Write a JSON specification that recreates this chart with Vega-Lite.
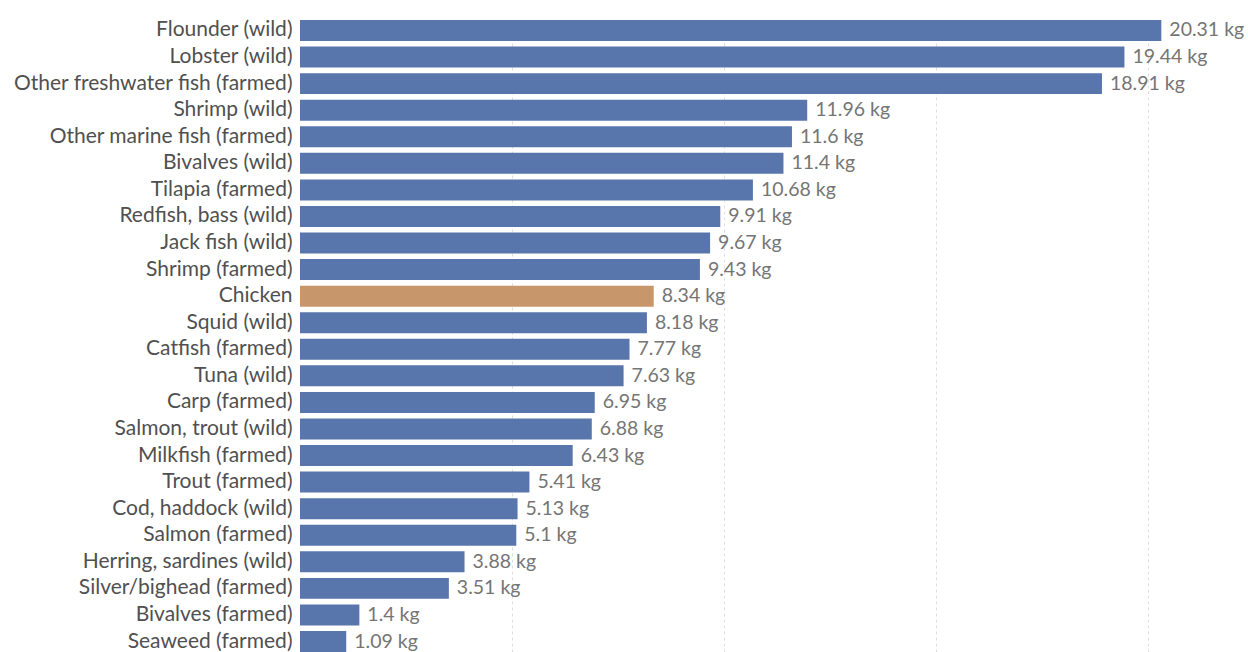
{
  "$schema": "https://vega.github.io/schema/vega-lite/v6.json",
  "autosize": "none",
  "width": 933,
  "height": 632,
  "padding": {"left": 300, "top": 20, "right": 15, "bottom": 0},
  "background": "white",
  "config": {"view": {"stroke": null}, "font": "Lato"},
  "data": {"values": [
    {"item": "Flounder (wild)", "kg": 20.31, "hl": "no"},
    {"item": "Lobster (wild)", "kg": 19.44, "hl": "no"},
    {"item": "Other freshwater fish (farmed)", "kg": 18.91, "hl": "no"},
    {"item": "Shrimp (wild)", "kg": 11.96, "hl": "no"},
    {"item": "Other marine fish (farmed)", "kg": 11.6, "hl": "no"},
    {"item": "Bivalves (wild)", "kg": 11.4, "hl": "no"},
    {"item": "Tilapia (farmed)", "kg": 10.68, "hl": "no"},
    {"item": "Redfish, bass (wild)", "kg": 9.91, "hl": "no"},
    {"item": "Jack fish (wild)", "kg": 9.67, "hl": "no"},
    {"item": "Shrimp (farmed)", "kg": 9.43, "hl": "no"},
    {"item": "Chicken", "kg": 8.34, "hl": "yes"},
    {"item": "Squid (wild)", "kg": 8.18, "hl": "no"},
    {"item": "Catfish (farmed)", "kg": 7.77, "hl": "no"},
    {"item": "Tuna (wild)", "kg": 7.63, "hl": "no"},
    {"item": "Carp (farmed)", "kg": 6.95, "hl": "no"},
    {"item": "Salmon, trout (wild)", "kg": 6.88, "hl": "no"},
    {"item": "Milkfish (farmed)", "kg": 6.43, "hl": "no"},
    {"item": "Trout (farmed)", "kg": 5.41, "hl": "no"},
    {"item": "Cod, haddock (wild)", "kg": 5.13, "hl": "no"},
    {"item": "Salmon (farmed)", "kg": 5.1, "hl": "no"},
    {"item": "Herring, sardines (wild)", "kg": 3.88, "hl": "no"},
    {"item": "Silver/bighead (farmed)", "kg": 3.51, "hl": "no"},
    {"item": "Bivalves (farmed)", "kg": 1.4, "hl": "no"},
    {"item": "Seaweed (farmed)", "kg": 1.09, "hl": "no"}
  ]},
  "transform": [{"calculate": "datum.kg + ' kg'", "as": "lbl"}],
  "encoding": {
    "y": {
      "field": "item", "type": "nominal", "sort": null,
      "scale": {"paddingInner": 0.21, "paddingOuter": 0},
      "axis": {"title": null, "domain": false, "ticks": false, "labelPadding": 8, "labelFontSize": 21, "labelColor": "#505050", "labelFont": "Lato", "labelLimit": 400}
    },
    "x": {
      "field": "kg", "type": "quantitative",
      "scale": {"domain": [0, 22], "nice": false},
      "axis": {"title": null, "values": [5, 10, 15, 20], "labels": false, "ticks": false, "domain": false, "grid": true, "gridColor": "#dddddd", "gridDash": [3, 3], "gridWidth": 1}
    }
  },
  "layer": [
    {
      "mark": {"type": "bar"},
      "encoding": {
        "color": {"field": "hl", "type": "nominal", "scale": {"domain": ["no", "yes"], "range": ["#5876ab", "#c8966b"]}, "legend": null}
      }
    },
    {
      "mark": {"type": "text", "align": "left", "baseline": "middle", "dx": 8, "fontSize": 19.5, "color": "#757575", "font": "Lato"},
      "encoding": {
        "text": {"field": "lbl", "type": "nominal"}
      }
    }
  ]
}
